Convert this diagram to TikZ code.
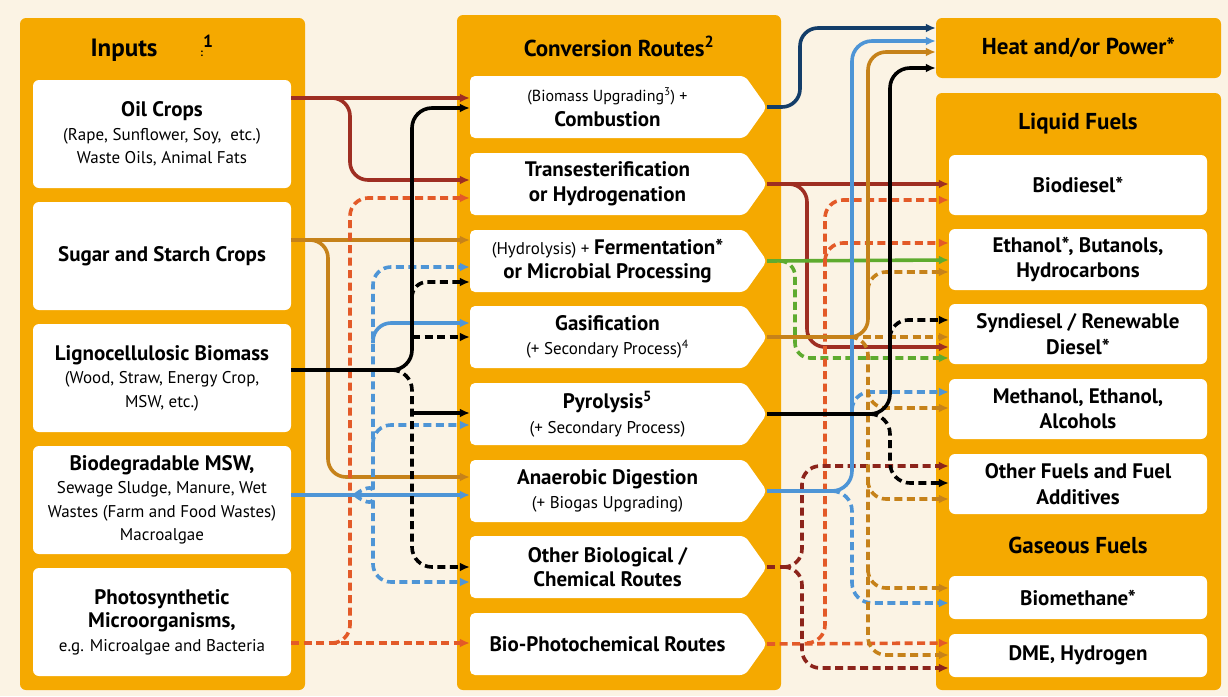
\documentclass[tikz,border=0pt]{standalone}
\usepackage{fontspec}
\setmainfont{PT Sans}
\usetikzlibrary{arrows.meta}

\definecolor{panelorange}{HTML}{F5A900}
\definecolor{cream}{HTML}{FBF3E4}
\definecolor{oilred}{HTML}{9E2E22}
\definecolor{sugarbrown}{HTML}{C6821A}
\definecolor{mswblue}{HTML}{4E95D6}
\definecolor{photoorange}{HTML}{E35A28}
\definecolor{fermgreen}{HTML}{5EAB2F}
\definecolor{heatnavy}{HTML}{133D69}
\definecolor{otherred}{HTML}{8C241B}

\newcommand\bigtext[1]{{\fontsize{21}{24}\selectfont\bfseries #1}}

\tikzset{
  panel/.style={fill=panelorange, rounded corners=6pt, inner sep=0pt},
  inbox/.style={fill=white, rounded corners=6pt, minimum width=258pt, minimum height=108pt,
    align=center, inner sep=0pt, font=\fontsize{17}{23.5}\selectfont},
  outbox/.style={fill=white, rounded corners=6pt, minimum width=258pt, align=center,
    inner sep=0pt, font=\fontsize{21}{25.5}\selectfont\bfseries},
  route/.style={minimum width=275pt, minimum height=62pt, align=center, inner sep=0pt,
    font=\fontsize{17}{24.5}\selectfont},
  heading/.style={font=\fontsize{23}{26}\selectfont\bfseries},
  flow/.style={line width=3.6pt, rounded corners=18pt},
  dflow/.style={flow, dash pattern=on 8pt off 4.5pt},
  toarrow/.style={-{Latex[length=10pt,width=9pt]}},
}

\begin{document}
\begin{tikzpicture}[x=1pt, y=-1pt]
% Background
\fill[cream] (0,0) rectangle (1228,696);
\useasboundingbox (0,0) rectangle (1228,696);
% Orange panels
\node[panel, minimum width=285pt, minimum height=672pt] (inpanel) at (162.5,354) {};
\node[panel, minimum width=324pt, minimum height=675pt] (routepanel) at (619,352.5) {};
\node[panel, minimum width=285pt, minimum height=60pt, heading] (heat) at (1078.5,48) {Heat and/or Power*};
\node[panel, minimum width=285pt, minimum height=597pt] (fuelpanel) at (1078.5,391.5) {};
% Headings
\node[heading, font=\fontsize{25}{28}\selectfont\bfseries] (intitle) at (152,48) {Inputs\hspace{1.7em}{\fontsize{11}{12}\selectfont :}\textsuperscript{1}};
\node[heading] (routetitle) at (619,46) {Conversion Routes\textsuperscript{2}};
\node[heading] (liquidtitle) at (1078,124) {Liquid Fuels};
\node[heading] (gastitle) at (1078,545) {Gaseous Fuels};
% Inputs
\node[inbox] (oil) at (162,134) {\bigtext{Oil Crops}\\(Rape, Sunflower, Soy,\ \ etc.)\\Waste Oils, Animal Fats};
\node[inbox] (sugar) at (162,256) {\bigtext{Sugar and Starch Crops}};
\node[inbox] (ligno) at (162,378) {\bigtext{Lignocellulosic Biomass}\\(Wood, Straw, Energy Crop,\\MSW, etc.)};
\node[inbox] (msw) at (162,500) {\bigtext{Biodegradable MSW,}\\Sewage Sludge, Manure, Wet\\Wastes (Farm and Food Wastes)\\Macroalgae};
\node[inbox] (photo) at (162,622) {\bigtext{Photosynthetic}\\\bigtext{Microorganisms,}\\e.g. Microalgae and Bacteria};
% Conversion route arrows (white pointed boxes)
\foreach \y in {107,184,261,337,414,491,567,644}
  \fill[white, rounded corners=5pt] (470,{\y-31}) -- (745,{\y-31}) -- (767,\y) -- (745,{\y+31}) -- (470,{\y+31}) -- cycle;
\node[route] (comb) at (607.5,107) {{\fontsize{16}{20}\selectfont (Biomass Upgrading\textsuperscript{3}) +}\\\bigtext{Combustion}};
\node[route] (trans) at (607.5,184) {\bigtext{Transesterification}\\\bigtext{or Hydrogenation}};
\node[route] (ferm) at (607.5,261) {(Hydrolysis) + \bigtext{Fermentation*}\\\bigtext{or Microbial Processing}};
\node[route] (gasif) at (607.5,337) {\bigtext{Gasification}\\(+ Secondary Process)\textsuperscript{4}};
\node[route] (pyro) at (607.5,414) {\bigtext{Pyrolysis\textsuperscript{5}}\\(+ Secondary Process)};
\node[route] (anaer) at (607.5,491) {\bigtext{Anaerobic Digestion}\\(+ Biogas Upgrading)};
\node[route] (other) at (607.5,567) {\bigtext{Other Biological /}\\\bigtext{Chemical Routes}};
\node[route] (biophoto) at (607.5,644) {\bigtext{Bio-Photochemical Routes}};
\coordinate (combtip) at (767,107);
\coordinate (transtip) at (767,184);
\coordinate (fermtip) at (767,261);
\coordinate (gasiftip) at (767,337);
\coordinate (pyrotip) at (767,414);
\coordinate (anaertip) at (767,491);
\coordinate (othertip) at (767,567);
\coordinate (biophototip) at (767,644);
% Outputs
\node[outbox, minimum height=60pt] (biod) at (1078,185) {Biodiesel*};
\node[outbox, minimum height=61pt] (ethanol) at (1078,259.5) {Ethanol*, Butanols,\\Hydrocarbons};
\node[outbox, minimum height=60pt] (synd) at (1078,334) {Syndiesel / Renewable\\Diesel*};
\node[outbox, minimum height=60pt] (methanol) at (1078,409) {Methanol, Ethanol,\\Alcohols};
\node[outbox, minimum height=60pt] (otherfuel) at (1078,484) {Other Fuels and Fuel\\Additives};
\node[outbox, minimum height=43pt] (biometh) at (1078,597.5) {Biomethane*};
\node[outbox, minimum height=43pt] (dme) at (1078,655.5) {DME, Hydrogen};

% Inputs to routes: oil crops
\draw[flow, oilred, toarrow] (oil.east |- 0,98) -- (comb.west |- 0,98);
\draw[flow, oilred, toarrow] (oil.east |- 0,98) -- (350,98) -- (350,180) -- (trans.west |- 0,180);
% Sugar and starch crops
\draw[flow, sugarbrown, toarrow] (sugar.east |- 0,240) -- (ferm.west |- 0,240);
\draw[flow, sugarbrown, toarrow] (sugar.east |- 0,240) -- (328,240) -- (328,477) -- (anaer.west |- 0,477);
% Photosynthetic microorganisms
\coordinate (pj) at (332,643);
\draw[dflow, photoorange, toarrow] (photo.east |- 0,643) -- (biophoto.west |- 0,643);
\draw[dflow, photoorange, toarrow] (pj) -- (350,643) -- (350,198) -- (trans.west |- 0,198);
% Biodegradable MSW
\coordinate (mj) at (355,495);
\coordinate (mb1) at (373,343);
\coordinate (mb2) at (373,445);
\draw[flow, mswblue, toarrow] (msw.east |- 0,495) -- (anaer.west |- 0,495);
\draw[dflow, mswblue, toarrow] (mj) to[out=40,in=-90] (373,474) -- (373,267) -- (ferm.west |- 0,267);
\draw[dflow, mswblue, toarrow] (mj) to[out=-40,in=90] (373,516) -- (373,582) -- (other.west |- 0,582);
\draw[flow, mswblue, toarrow] (mb1) -- (373,323) -- (gasif.west |- 0,323);
\draw[dflow, mswblue, toarrow] (mb2) -- (373,425) -- (pyro.west |- 0,425);
% Lignocellulosic biomass
\coordinate (lj) at (392,370);
\coordinate (lb1) at (412,298);
\coordinate (lb2) at (412,337);
\coordinate (lb3) at (412,413);
\draw[flow, black, toarrow, rounded corners=20pt] (ligno.east |- 0,370) -- (412,370) -- (412,108) -- (comb.west |- 0,108);
\draw[dflow, black, toarrow, rounded corners=20pt] (lj) -- (412,370) -- (412,567) -- (other.west |- 0,567);
\draw[dflow, black, toarrow, rounded corners=15pt] (lb1) -- (412,282) -- (ferm.west |- 0,282);
\draw[dflow, black, toarrow] (lb2) -- (gasif.west |- 0,337);
\draw[flow, black, toarrow] (lb3) -- (pyro.west |- 0,413);

% Routes to products: combustion
\draw[flow, heatnavy, toarrow] (combtip) -- (800,107) -- (800,28) -- (heat.west |- 0,28);
% Transesterification
\draw[flow, oilred, toarrow] (transtip) -- (biod.west |- 0,184);
\draw[flow, oilred, toarrow] (transtip) -- (807,184) -- (807,347) -- (synd.west |- 0,347);
% Fermentation
\draw[flow, fermgreen, toarrow] (fermtip) -- (ethanol.west |- 0,260);
\draw[dflow, fermgreen, toarrow, rounded corners=15pt] (fermtip) -- (795,261) -- (795,358) -- (synd.west |- 0,358);
% Bio-photochemical routes
\coordinate (bj) at (808,643);
\coordinate (bb1) at (825,261);
\draw[dflow, photoorange, toarrow] (biophototip) -- (dme.west |- 0,643);
\draw[dflow, photoorange, toarrow] (bj) -- (825,643) -- (825,200) -- (biod.west |- 0,200);
\draw[dflow, photoorange, toarrow] (bb1) -- (825,243) -- (ethanol.west |- 0,243);
% Other biological / chemical routes
\coordinate (oj) at (785,567);
\draw[dflow, otherred] (othertip) -- (oj);
\draw[dflow, otherred, toarrow] (oj) -- (802,567) -- (802,466) -- (otherfuel.west |- 0,466);
\draw[dflow, otherred, toarrow] (oj) -- (802,567) -- (802,668) -- (dme.west |- 0,668);
% Anaerobic digestion
\coordinate (aj) at (832,491);
\coordinate (ab1) at (852,410);
\draw[flow, mswblue, toarrow, rounded corners=20pt] (anaertip) -- (852,491) -- (852,41) -- (heat.west |- 0,41);
\draw[dflow, mswblue, toarrow, rounded corners=20pt] (aj) -- (852,491) -- (852,603) -- (biometh.west |- 0,603);
\draw[dflow, mswblue, toarrow] (ab1) -- (852,392) -- (methanol.west |- 0,392);
% Gasification
\coordinate (gj) at (850,337);
\coordinate (gb1) at (868,289);
\coordinate (gb2) at (868,391);
\coordinate (gb3) at (868,482);
\coordinate (gb4) at (868,571);
\draw[flow, sugarbrown, toarrow] (gasiftip) -- (868,337) -- (868,52) -- (heat.west |- 0,52);
\draw[dflow, sugarbrown, toarrow] (gj) -- (synd.west |- 0,337);
\draw[dflow, sugarbrown, toarrow] (gj) -- (868,337) -- (868,655) -- (dme.west |- 0,655);
\draw[dflow, sugarbrown, toarrow] (gb1) -- (868,272) -- (ethanol.west |- 0,272);
\draw[dflow, sugarbrown, toarrow] (gb2) -- (868,408) -- (methanol.west |- 0,408);
\draw[dflow, sugarbrown, toarrow] (gb3) -- (868,499) -- (otherfuel.west |- 0,499);
\draw[dflow, sugarbrown, toarrow] (gb4) -- (868,588) -- (biometh.west |- 0,588);
% Pyrolysis
\coordinate (yj) at (870,414);
\coordinate (yb1) at (890,338);
\draw[flow, black, toarrow, rounded corners=20pt] (pyrotip) -- (890,414) -- (890,68) -- (heat.west |- 0,68);
\draw[dflow, black, toarrow, rounded corners=20pt] (yj) -- (890,414) -- (890,483) -- (otherfuel.west |- 0,483);
\draw[dflow, black, toarrow] (yb1) -- (890,320) -- (synd.west |- 0,320);
\end{tikzpicture}
\end{document}
